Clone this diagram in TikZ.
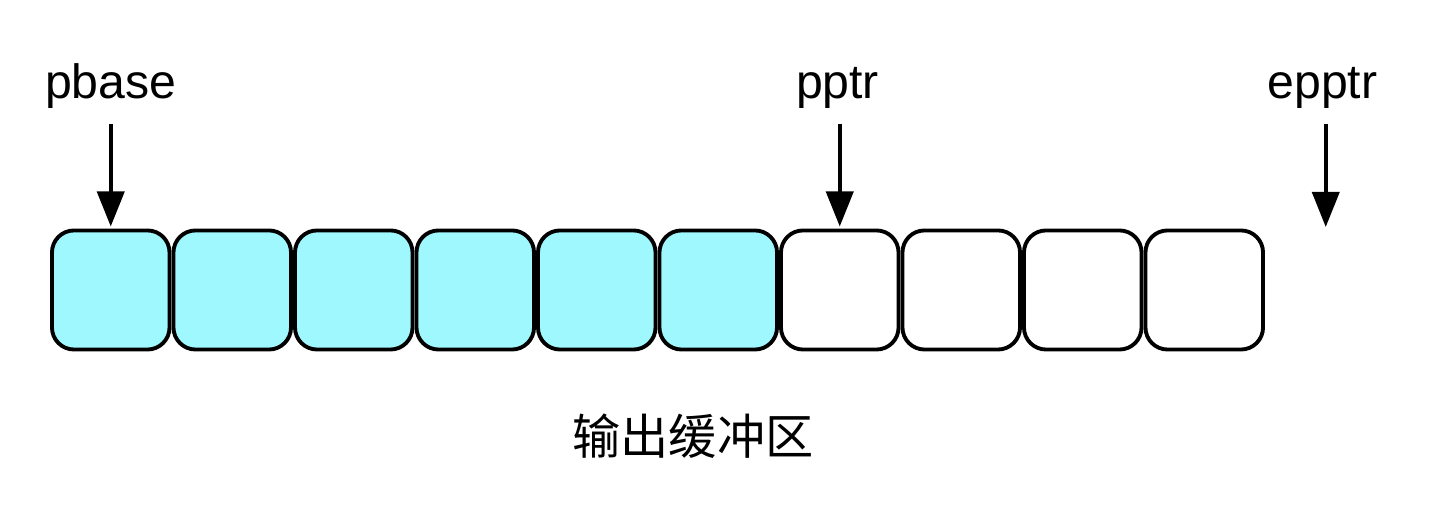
\documentclass[tikz,border=0pt]{standalone}
\usepackage{fontspec}
\setmainfont{Liberation Sans}
\newfontfamily\cjk{Noto Sans CJK SC}
\usetikzlibrary{arrows.meta}
\definecolor{bufcyan}{RGB}{158,248,253}
\tikzset{
  cell/.style={draw, line width=1.1pt, rounded corners=0.22cm,
    minimum width=1.175cm, minimum height=1.19cm, inner sep=0pt},
  used/.style={cell, fill=bufcyan},
  ptrlabel/.style={anchor=base, inner sep=0pt, font=\fontsize{13.7}{16}\selectfont},
  ptr/.style={-{Triangle[width=0.27cm,length=0.35cm]}, line width=1.1pt,
    shorten <=0.14cm},
}
\begin{document}
\begin{tikzpicture}[x=0.01cm, y=0.01cm]
      \useasboundingbox (0,0) rectangle (1433,516);
      \foreach \i/\s in {1/used,2/used,3/used,4/used,5/used,6/used,
                         7/cell,8/cell,9/cell,10/cell}
        \node[\s] (cell\i) at ({121.5*\i-10.75},226) {};
      \coordinate (end) at (1325.75,289);
      \draw
        (110.75,417) node[ptrlabel] (pbase) {pbase}
        (837.5,417) node[ptrlabel] (pptr) {pptr}
        (1322.5,417) node[ptrlabel] (epptr) {epptr};
      \begin{scope}[ptr]
        \draw (pbase.south -| cell1.north) to ([yshift=0.02cm]cell1.north);
        \draw (pptr.south -| cell7.north) to ([yshift=0.02cm]cell7.north);
        \draw (epptr.south -| end) to (end);
      \end{scope}
      \node[anchor=base, inner sep=0pt, font=\cjk\fontsize{13.7}{16}\selectfont]
        (buffer) at (693,61) {输出缓冲区};
    \end{tikzpicture}
\end{document}
